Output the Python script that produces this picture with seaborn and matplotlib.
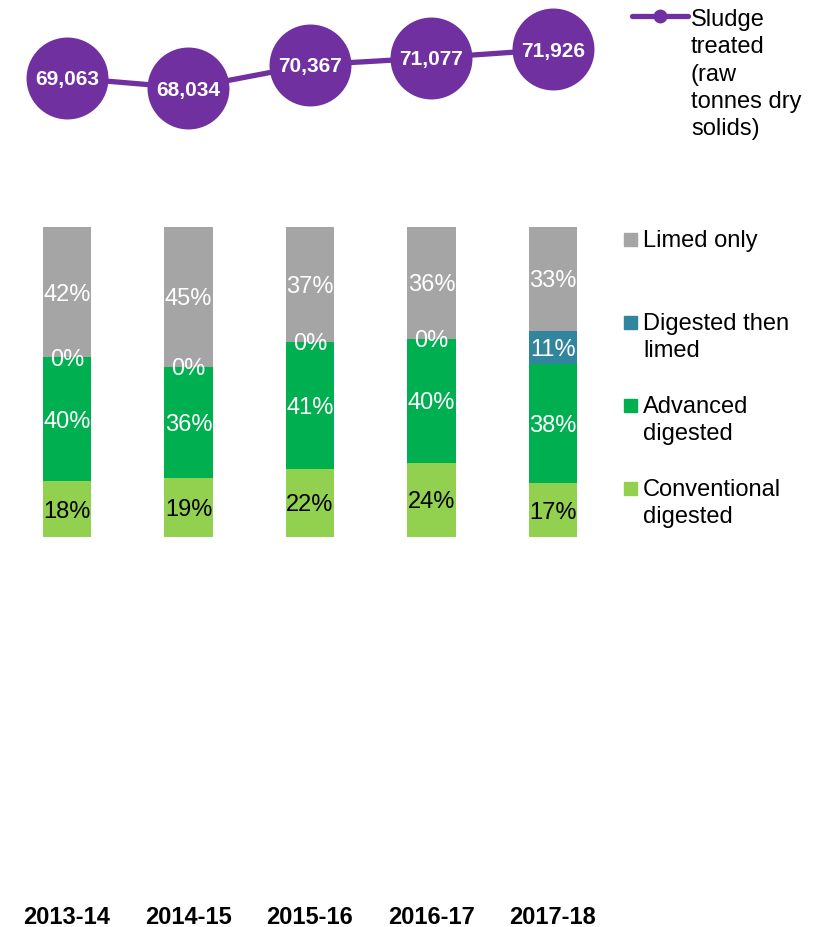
import matplotlib
matplotlib.use("Agg")
import matplotlib.pyplot as plt
from matplotlib.lines import Line2D
from matplotlib.patches import Rectangle
import numpy as np
import pandas as pd
import seaborn as sns

# ---- data -------------------------------------------------------------
years = ["2013-14", "2014-15", "2015-16", "2016-17", "2017-18"]
sludge_treated = [69063, 68034, 70367, 71077, 71926]   # raw tonnes dry solids

# share of sludge by treatment route (%)
conventional_digested = [18, 19, 22, 24, 17.4]
advanced_digested = [40, 36, 41, 40, 38.3]
digested_then_limed = [0, 0, 0, 0, 10.9]
limed_only = [42, 45, 37, 36, 33.4]

series_names = ["Conventional\ndigested", "Advanced\ndigested",
                "Digested then\nlimed", "Limed only"]
series_values = [conventional_digested, advanced_digested,
                 digested_then_limed, limed_only]
series_colors = ["#92D050", "#00B050", "#31859C", "#A5A5A5"]
label_colors = ["black", "white", "white", "white"]
line_color = "#7030A0"

# ---- style ------------------------------------------------------------
sns.set_theme(style="white")
plt.rcParams["font.family"] = ["Liberation Sans", "DejaVu Sans"]
plt.rcParams["text.color"] = "black"
plt.rcParams["xtick.color"] = "black"

W, H = 820, 927
fig = plt.figure(figsize=(W / 100, H / 100), dpi=100)


def fx(px):
    return px / W


def fy(py):
    return 1 - py / H


# category positions: first centre at 67 px, step 121.5 px, axes 0..600 px
step = 121.5
xlim = (-67 / step, (600 - 67) / step)

# ---- line axes (full height, carries the year labels) -----------------
ax_line = fig.add_axes([fx(0), fy(900), fx(600), 900 / H])
ax_bar = fig.add_axes([fx(0), fy(537), fx(600), 310 / H])
ax_line.set_zorder(3)
ax_line.patch.set_alpha(0)

df_line = pd.DataFrame({"year": years, "sludge": sludge_treated})
sns.lineplot(data=df_line, x="year", y="sludge", sort=False, ax=ax_line,
             color=line_color, linewidth=3.8, marker="o", markersize=59,
             markeredgewidth=0, legend=False)
for i, v in enumerate(sludge_treated):
    ax_line.text(i, v, f"{v:,}", ha="center", va="center_baseline",
                 color="white", fontsize=15, fontweight="bold")

k = 0.0099  # px per tonne
ax_line.set_ylim(68034 - (900 - 88) / k, 68034 + 88 / k)
ax_line.set_xlim(*xlim)
ax_line.set_yticks([])
ax_line.set_xlabel("")
ax_line.set_ylabel("")
ax_line.tick_params(axis="x", length=0, pad=4, colors="black")
for lbl in ax_line.get_xticklabels():
    lbl.set_fontsize(17)
    lbl.set_fontweight("bold")
    lbl.set_color("black")
for s in ax_line.spines.values():
    s.set_visible(False)

# ---- stacked 100% bars --------------------------------------------------
df_bar = pd.DataFrame({"year": years})
cum = np.zeros(len(years))
bottoms = []
for vals in series_values:
    bottoms.append(cum.copy())
    cum = cum + np.array(vals, dtype=float)
    df_bar[f"top{len(bottoms)}"] = cum

# draw the tallest cumulative layer first so lower layers sit in front
for j in range(len(series_values) - 1, -1, -1):
    sns.barplot(data=df_bar, x="year", y=f"top{j + 1}", ax=ax_bar,
                color=series_colors[j], saturation=1, width=0.40,
                linewidth=0, errorbar=None)

for j, vals in enumerate(series_values):
    for i, v in enumerate(vals):
        y = bottoms[j][i] + v / 2
        ax_bar.text(i, y, f"{v:.0f}%", ha="center", va="center_baseline",
                    color=label_colors[j], fontsize=17)

ax_bar.set_ylim(0, 100)
ax_bar.set_xlim(*xlim)
ax_bar.axis("off")

# ---- legends ----------------------------------------------------------
fig.add_artist(Line2D([fx(632), fx(688)], [fy(16), fy(16)],
                      color=line_color, linewidth=3.8,
                      transform=fig.transFigure))
fig.add_artist(Line2D([fx(660)], [fy(16)], color=line_color, marker="o",
                      markersize=10, markeredgewidth=0,
                      transform=fig.transFigure))
fig.text(fx(691), fy(9), "Sludge\ntreated\n(raw\ntonnes dry\nsolids)",
         ha="left", va="top", fontsize=17, linespacing=1.31, color="black")

legend_rows = [(239, 3), (322, 2), (405, 1), (488, 0)]
for py, j in legend_rows:
    fig.add_artist(Rectangle((fx(624), fy(py + 6.5)), fx(13), 13 / H,
                             color=series_colors[j], transform=fig.transFigure))
    fig.text(fx(643), fy(py - 9), series_names[j], ha="left", va="top",
             fontsize=17, linespacing=1.31, color="black")

fig.savefig("out.png", dpi=100)
